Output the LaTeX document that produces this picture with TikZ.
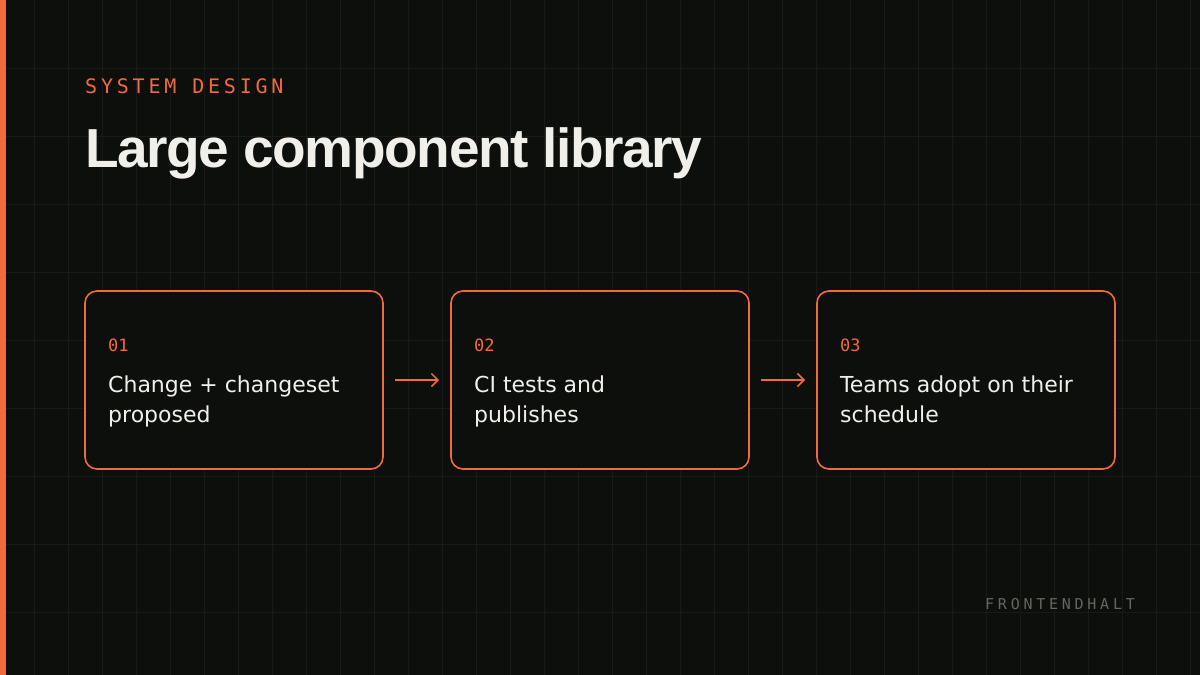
\documentclass[tikz,border=0pt]{standalone}
\usepackage{fontspec}
\usepackage{tikz}
\usetikzlibrary{positioning, arrows.meta}

\newfontfamily\bodyfont{DejaVu Sans}
\newfontfamily\titlefont[LetterSpace=-2.5]{Liberation Sans}
\newfontfamily\eyebrowfont[LetterSpace=19]{DejaVu Sans Mono}
\newfontfamily\numfont{DejaVu Sans Mono}
\newfontfamily\brandfont[LetterSpace=25]{DejaVu Sans Mono}

\definecolor{bgdark}{HTML}{0D0F0D}
\definecolor{gridline}{HTML}{181A18}
\definecolor{accent}{HTML}{F26A3F}
\definecolor{inktext}{HTML}{F0EFEA}
\definecolor{brandgrey}{HTML}{66665F}

\tikzset{
  stepcard/.style={draw=accent, line width=1.6pt, fill=bgdark, rounded corners=12pt,
    minimum width=298pt, minimum height=178pt, inner sep=0pt, outer sep=0pt},
  stepnum/.style={anchor=base west, inner sep=0pt, text=accent, font=\numfont\fontsize{17}{20}\selectfont},
  steptext/.style={anchor=base west, inner sep=0pt, align=left, text=inktext,
    font=\bodyfont\fontsize{22}{30}\selectfont},
  flow/.style={draw=accent, line width=1.5pt, -{Straight Barb[length=6.5pt, width=13pt]}}
}

\begin{document}
\begin{tikzpicture}[x=1pt, y=-1pt]
\useasboundingbox (0,0) rectangle (1200,675);

% --- Background and grid ---
\fill[bgdark] (0,0) rectangle (1200,675);
\foreach \gx in {34,68,...,1190} \draw[gridline, line width=1pt] (\gx,0) -- (\gx,675);
\foreach \gy in {68,136,...,670} \draw[gridline, line width=1pt] (0,\gy) -- (1200,\gy);
\fill[accent] (0,0) rectangle (6,675); % left bar

% --- Header ---
\node[anchor=base west, inner sep=0pt, text=accent, font=\eyebrowfont\fontsize{20}{24}\selectfont]
  (eyebrow) at (85,93) {SYSTEM DESIGN};
\node[anchor=base west, inner sep=0pt, text=inktext, font=\titlefont\bfseries\fontsize{55}{60}\selectfont]
  (title) at (85,167) {Large component library};

% --- Steps ---
\node[stepcard] (card1) at (234,380) {};
\node[stepcard, right=68pt of card1] (card2) {};
\node[stepcard, right=68pt of card2] (card3) {};

\node[stepnum] (num1) at (108,351) {01};
\node[steptext] (txt1) at (108,422) {Change + changeset\\proposed};
\node[stepnum] (num2) at (474,351) {02};
\node[steptext] (txt2) at (474,422) {CI tests and\\publishes};
\node[stepnum] (num3) at (840,351) {03};
\node[steptext] (txt3) at (840,422) {Teams adopt on their\\schedule};

% --- Connectors ---
\draw[flow] ([xshift=12pt]card1.east) -- ([xshift=-12pt]card2.west);
\draw[flow] ([xshift=12pt]card2.east) -- ([xshift=-12pt]card3.west);

% --- Brand mark ---
\node[anchor=base west, inner sep=0pt, text=brandgrey, font=\brandfont\fontsize{15}{18}\selectfont]
  (brand) at (985,609) {FRONTENDHALT};
\end{tikzpicture}
\end{document}
